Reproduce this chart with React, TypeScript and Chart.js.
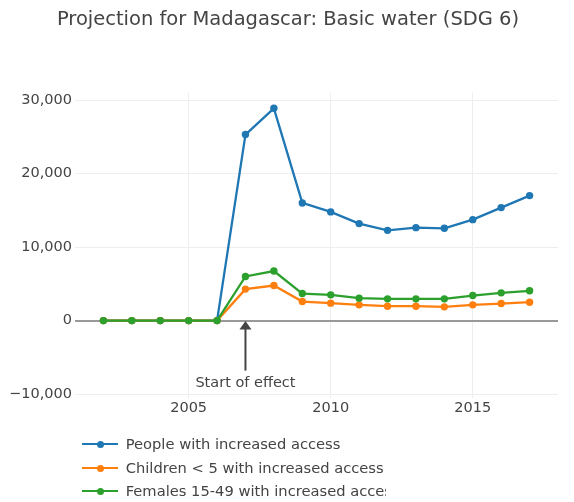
import React, { useEffect, useRef } from "react";
import { Chart, registerables } from "chart.js";

Chart.register(...registerables);

const years = [2002, 2003, 2004, 2005, 2006, 2007, 2008, 2009, 2010, 2011, 2012, 2013, 2014, 2015, 2016, 2017];
const people = [0, 0, 0, 0, 0, 25300, 28870, 16000, 14780, 13190, 12270, 12640, 12550, 13730, 15370, 17000];
const children = [0, 0, 0, 0, 0, 4280, 4770, 2590, 2370, 2140, 1960, 1960, 1870, 2140, 2320, 2500];
const females = [0, 0, 0, 0, 0, 6000, 6740, 3680, 3500, 3050, 2960, 2960, 2960, 3410, 3770, 4050];

const xTicks = [2005, 2010, 2015];
const yTicks = [-10000, 0, 10000, 20000, 30000];

const seriesNames = [
  "People with increased access",
  "Children < 5 with increased access",
  "Females 15-49 with increased access",
];
const seriesColors = ["#1f77b4", "#ff7f0e", "#2ca02c"];

const titleText = "Projection for Madagascar: Basic water (SDG 6)";
const annotationText = "Start of effect";
const annotationYear = 2007;

const FONT = "'DejaVu Sans', Verdana, sans-serif";
const TEXT = "#444";

function fmt(v: number): string {
  const s = Math.abs(v).toLocaleString("en-US");
  return v < 0 ? "\u2212" + s : s;
}

const overlayPlugin = {
  id: "overlay",
  afterDraw(chart: any) {
    const ctx = chart.ctx;
    const xs = chart.scales.x;
    const ys = chart.scales.y;
    ctx.save();
    // title
    ctx.fillStyle = TEXT;
    ctx.font = `19.5px ${FONT}`;
    ctx.textAlign = "center";
    ctx.textBaseline = "middle";
    ctx.fillText(titleText, 288, 20);
    // annotation
    const x = xs.getPixelForValue(annotationYear);
    const y0 = ys.getPixelForValue(0);
    ctx.strokeStyle = TEXT;
    ctx.fillStyle = TEXT;
    ctx.lineWidth = 2;
    ctx.beginPath();
    ctx.moveTo(x, y0 + 8);
    ctx.lineTo(x, y0 + 50);
    ctx.stroke();
    ctx.beginPath();
    ctx.moveTo(x, y0 + 0.5);
    ctx.lineTo(x - 6, y0 + 9);
    ctx.lineTo(x + 6, y0 + 9);
    ctx.closePath();
    ctx.fill();
    ctx.font = `14.5px ${FONT}`;
    ctx.fillText(annotationText, x, y0 + 63);
    ctx.restore();
  },
};

export default function App() {
  const ref = useRef<HTMLCanvasElement | null>(null);

  useEffect(() => {
    document.body.style.margin = "0";
    const canvas = ref.current;
    if (!canvas) return;
    const mk = (i: number, vals: number[], order: number) => ({
      label: seriesNames[i],
      data: years.map((y, k) => ({ x: y, y: vals[k] })),
      borderColor: seriesColors[i],
      backgroundColor: seriesColors[i],
      borderWidth: 2.3,
      pointRadius: 3.7,
      pointBorderWidth: 0,
      pointHoverRadius: 3.7,
      tension: 0,
      order,
    });
    const chart = new Chart(canvas, {
      type: "line",
      data: {
        datasets: [mk(0, people, 3), mk(1, children, 2), mk(2, females, 1)],
      },
      options: {
        animation: false,
        responsive: false,
        layout: { padding: { top: 92.65, right: 16, left: 0, bottom: 0 } },
        plugins: {
          legend: { display: false },
          title: { display: false },
          tooltip: { enabled: false },
        },
        scales: {
          x: {
            type: "linear",
            min: 2001,
            max: 2018,
            afterBuildTicks: (s: any) => {
              s.ticks = xTicks.map((v) => ({ value: v }));
            },
            afterFit: (s: any) => {
              s.height = 104.2;
            },
            grid: { color: "#eee", lineWidth: 1, drawTicks: false },
            border: { display: false },
            ticks: {
              color: TEXT,
              font: { family: FONT, size: 14.5 },
              padding: 2,
              maxRotation: 0,
              callback: (v: any) => String(v),
            },
          },
          y: {
            min: -10500,
            max: 31000,
            afterBuildTicks: (s: any) => {
              s.ticks = yTicks.map((v) => ({ value: v }));
            },
            afterFit: (s: any) => {
              s.width = 75;
            },
            grid: {
              color: (c: any) => (c.tick && c.tick.value === 0 ? "#999" : "#eee"),
              lineWidth: (c: any) => (c.tick && c.tick.value === 0 ? 2 : 1),
              drawTicks: false,
            },
            border: { display: false },
            ticks: {
              color: TEXT,
              font: { family: FONT, size: 14.5 },
              padding: 3,
              callback: (v: any) => fmt(Number(v)),
            },
          },
        },
      },
      plugins: [overlayPlugin],
    } as any);
    return () => chart.destroy();
  }, []);

  const rowTops = [444.3, 468.3, 491];
  return (
    <div style={{ position: "relative", width: 574, height: 502, overflow: "hidden", background: "#fff" }}>
      <canvas ref={ref} width={574} height={502} style={{ position: "absolute", left: 0, top: 0 }} />
      <div style={{ position: "absolute", left: 0, top: 0, width: 386, height: 502, overflow: "hidden" }}>
        {seriesNames.map((name, i) => (
          <div key={name} style={{ position: "absolute", left: 0, top: rowTops[i] - 10, height: 20, width: 600 }}>
            <div style={{ position: "absolute", left: 82, top: 9, width: 36, height: 2, background: seriesColors[i] }} />
            <div
              style={{
                position: "absolute",
                left: 96.5,
                top: 6.5,
                width: 7,
                height: 7,
                borderRadius: "50%",
                background: seriesColors[i],
              }}
            />
            <div
              style={{
                position: "absolute",
                left: 125.7,
                top: 0,
                lineHeight: "20px",
                fontFamily: FONT,
                fontSize: 14.7,
                color: TEXT,
                whiteSpace: "nowrap",
              }}
            >
              {name}
            </div>
          </div>
        ))}
      </div>
    </div>
  );
}
